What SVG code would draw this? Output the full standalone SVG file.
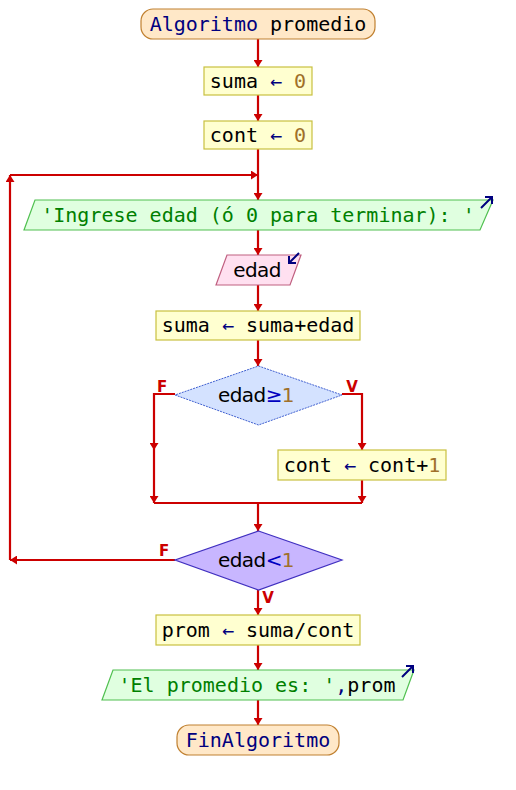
<svg xmlns="http://www.w3.org/2000/svg" width="516" height="790" viewBox="0 0 516 790">
<style>
.mono{font-family:"DejaVu Sans Mono","Liberation Mono",monospace;font-size:20px}
.sans{font-family:"DejaVu Sans","Liberation Sans",sans-serif;font-size:20px;letter-spacing:-0.6px}
.kw{fill:#00007f}
.num{fill:#a0702a}
.str{fill:#008000}
.op{fill:#0000c0}
.blk{fill:#000000}
.proc{fill:#ffffd0;stroke:#c8c040;stroke-width:1.2}
.term{fill:#ffe8c8;stroke:#c08030;stroke-width:1.2}
.out{fill:#e0ffe0;stroke:#50c050;stroke-width:1.2}
.inp{fill:#ffe0f0;stroke:#c06080;stroke-width:1.2}
.conn{fill:none;stroke:#cc0000;stroke-width:2.2}
.lbl{font-family:"DejaVu Sans","Liberation Sans",sans-serif;font-size:15px;font-weight:bold;fill:#cc0000}
.icon{fill:none;stroke:#00007f;stroke-width:2}
</style>
<defs>
<marker id="ah" markerUnits="userSpaceOnUse" viewBox="0 0 7 9" refX="7" refY="4.5" markerWidth="7" markerHeight="9" orient="auto">
<path d="M0,0 L7,4.5 L0,9 z" fill="#cc0000"/>
</marker>
</defs>
<rect width="516" height="790" fill="#ffffff"/>
<g id="connectors">
<path class="conn" d="M258,39 V67" marker-end="url(#ah)"/>
<path class="conn" d="M258,95 V121" marker-end="url(#ah)"/>
<path class="conn" d="M258,149 V200" marker-end="url(#ah)"/>
<path class="conn" d="M258,230 V255" marker-end="url(#ah)"/>
<path class="conn" d="M258,285 V311" marker-end="url(#ah)"/>
<path class="conn" d="M258,340 V366" marker-end="url(#ah)"/>
<path class="conn" d="M175,394 H154 V450" marker-end="url(#ah)"/>
<path class="conn" d="M154,450 V503" marker-end="url(#ah)"/>
<path class="conn" d="M342,394 H362 V450" marker-end="url(#ah)"/>
<path class="conn" d="M362,480 V503" marker-end="url(#ah)"/>
<path class="conn" d="M154,503 H362"/>
<path class="conn" d="M258,503 V531" marker-end="url(#ah)"/>
<path class="conn" d="M175,560 H10" marker-end="url(#ah)"/>
<path class="conn" d="M10,560 V175" marker-end="url(#ah)"/>
<path class="conn" d="M10,175 H258" marker-end="url(#ah)"/>
<path class="conn" d="M258,590 V615" marker-end="url(#ah)"/>
<path class="conn" d="M258,645 V670" marker-end="url(#ah)"/>
<path class="conn" d="M258,700 V725" marker-end="url(#ah)"/>
<text class="lbl" x="162" y="392" text-anchor="middle">F</text>
<text class="lbl" x="352" y="392" text-anchor="middle">V</text>
<text class="lbl" x="164" y="556" text-anchor="middle">F</text>
<text class="lbl" x="268" y="603" text-anchor="middle">V</text>
</g>
<g id="start">
<rect class="term" x="141" y="9" width="234" height="30" rx="12" ry="12"/>
<text class="mono" x="258" y="31" text-anchor="middle"><tspan class="kw">Algoritmo</tspan><tspan class="blk"> promedio</tspan></text>
</g>
<g id="suma0">
<rect class="proc" x="204" y="67" width="108" height="28"/>
<text class="mono" x="258" y="88" text-anchor="middle"><tspan class="blk">suma </tspan><tspan class="kw">←</tspan><tspan class="num"> 0</tspan></text>
</g>
<g id="cont0">
<rect class="proc" x="204" y="121" width="108" height="28"/>
<text class="mono" x="258" y="142" text-anchor="middle"><tspan class="blk">cont </tspan><tspan class="kw">←</tspan><tspan class="num"> 0</tspan></text>
</g>
<g id="out1">
<polygon class="out" points="35,200 493,200 480,230 24,230"/>
<text class="mono str" x="258" y="222" text-anchor="middle">'Ingrese edad (ó 0 para terminar): '</text>
<path class="icon" d="M481,208 L492,197 M485,197 H492 V204"/>
</g>
<g id="read">
<polygon class="inp" points="227,255 301,255 290,285 216,285"/>
<text class="sans blk" x="257" y="277" text-anchor="middle">edad</text>
<path class="icon" d="M299,253 L289,263 M289,256 V263 H296"/>
</g>
<g id="sumaedad">
<rect class="proc" x="156" y="311" width="204" height="29"/>
<text class="mono" x="258" y="332" text-anchor="middle"><tspan class="blk">suma </tspan><tspan class="kw">←</tspan><tspan class="blk"> suma+edad</tspan></text>
</g>
<g id="cond1">
<polygon points="258.5,366 342,395 258.5,425 175,395" fill="#d4e2ff" stroke="#4060d0" stroke-width="1" stroke-dasharray="2,1"/>
<text class="sans" x="256" y="402" text-anchor="middle"><tspan class="blk">edad</tspan><tspan class="op">≥</tspan><tspan class="num">1</tspan></text>
</g>
<g id="continc">
<rect class="proc" x="278" y="450" width="168" height="30"/>
<text class="mono" x="362" y="472" text-anchor="middle"><tspan class="blk">cont </tspan><tspan class="kw">←</tspan><tspan class="blk"> cont+</tspan><tspan class="num">1</tspan></text>
</g>
<g id="cond2">
<polygon points="258.5,531 342,560 258.5,590 175,560" fill="#c8b6ff" stroke="#4030c0" stroke-width="1.2"/>
<text class="sans" x="256" y="567" text-anchor="middle"><tspan class="blk">edad</tspan><tspan class="op">&lt;</tspan><tspan class="num">1</tspan></text>
</g>
<g id="prom">
<rect class="proc" x="156" y="615" width="204" height="30"/>
<text class="mono" x="258" y="637" text-anchor="middle"><tspan class="blk">prom </tspan><tspan class="kw">←</tspan><tspan class="blk"> suma/cont</tspan></text>
</g>
<g id="out2">
<polygon class="out" points="113,670 414,670 403,700 102,700"/>
<text class="mono" x="257" y="692" text-anchor="middle"><tspan class="str">'El promedio es: '</tspan><tspan class="kw">,</tspan><tspan class="blk">prom</tspan></text>
<path class="icon" d="M402,677 L413,666 M406,666 H413 V673"/>
</g>
<g id="end">
<rect class="term" x="177" y="725" width="162" height="30" rx="12" ry="12"/>
<text class="mono kw" x="258" y="747" text-anchor="middle">FinAlgoritmo</text>
</g>
</svg>
